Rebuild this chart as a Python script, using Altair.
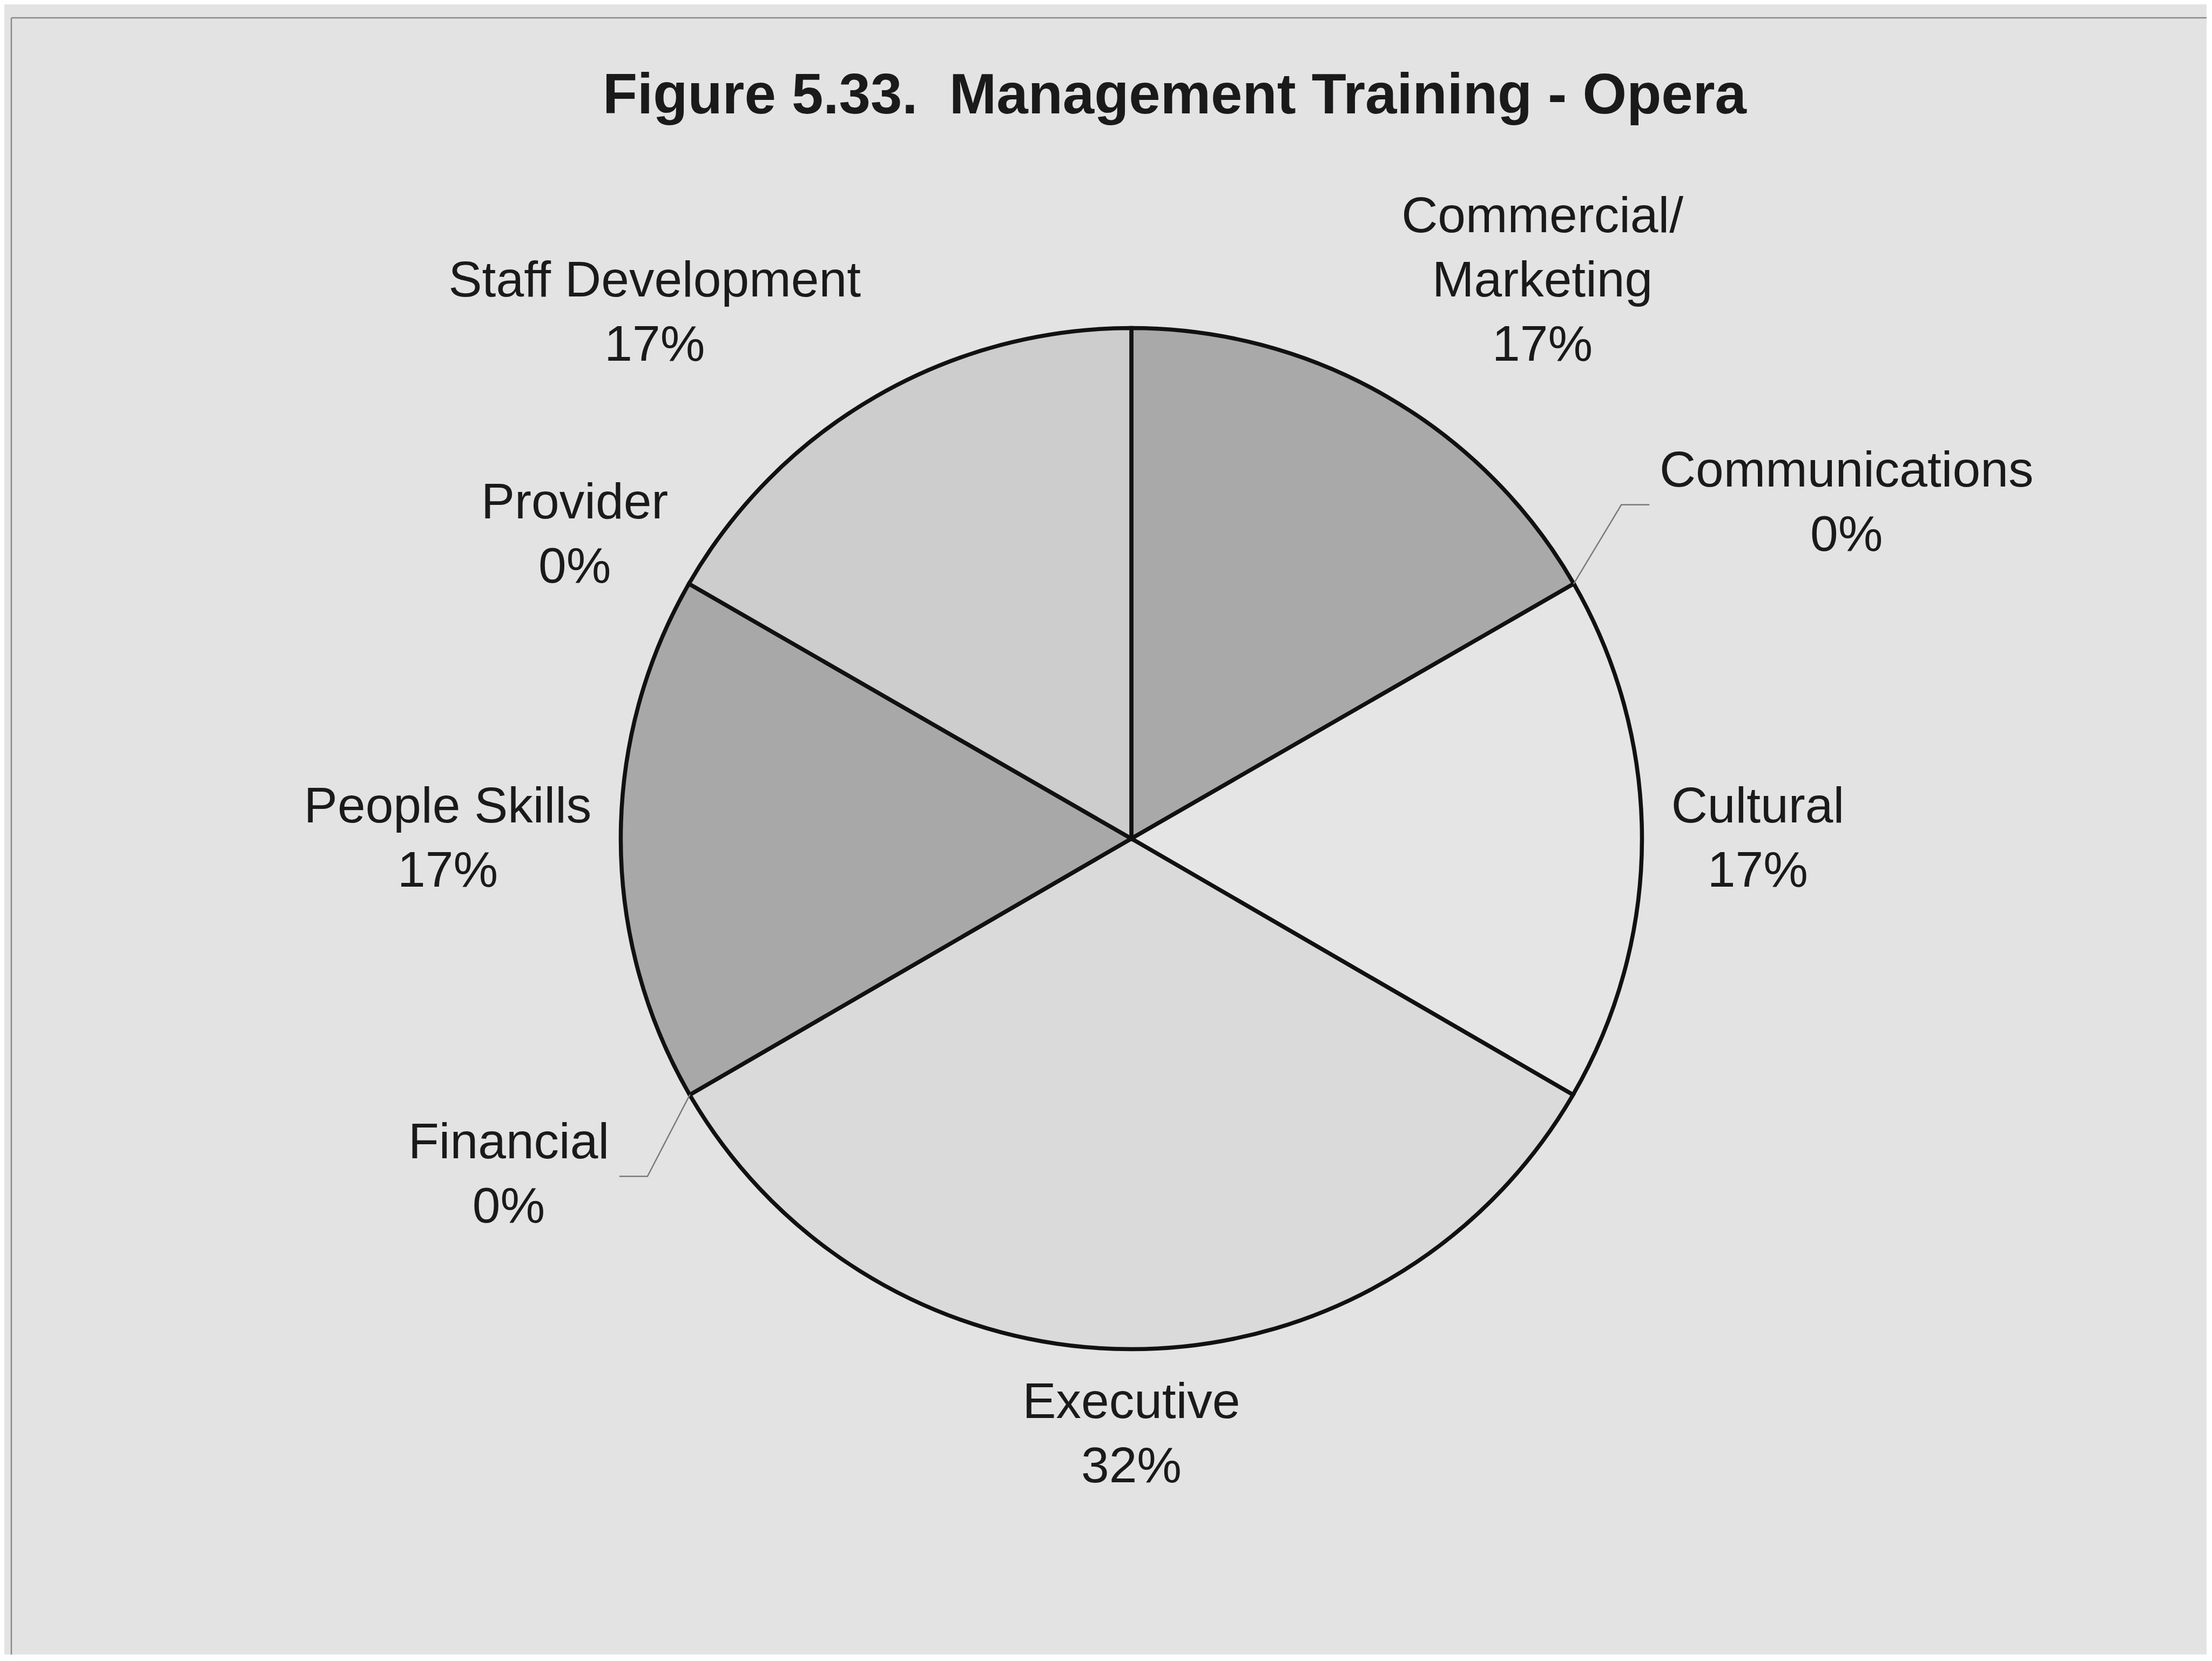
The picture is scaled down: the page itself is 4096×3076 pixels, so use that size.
import math
import altair as alt
import pandas as pd

# ---------------- data ----------------
categories = ["Commercial/Marketing", "Communications", "Cultural", "Executive",
              "Financial", "People Skills", "Provider", "Staff Development"]
# slice sizes (60, 0, 60, 120, 0, 60, 0, 60 degrees)
shares = [16.7, 0.0, 16.7, 33.3, 0.0, 16.7, 0.0, 16.7]
pct_labels = ["17%", "0%", "17%", "32%", "0%", "17%", "0%", "17%"]
label_names = ["Commercial/\nMarketing", "Communications", "Cultural", "Executive",
               "Financial", "People Skills", "Provider", "Staff Development"]
fills = ["#a9a9a9", "#e4e4e4", "#e5e5e5", "#dadada", "#dadada", "#a8a8a8", "#cdcdcd", "#cdcdcd"]
title_text = "Figure 5.33.\u00a0 Management Training - Opera"

# ---------------- layout ----------------
W, H = 4078, 3056
CX, CY = 2088, 1546          # pie centre (px in chart)
R = 945.5                    # pie radius (px)
FS, LH = 93, 119             # label font size / line height
FONT = "Liberation Sans"
TXT = "#1a1a1a"
LABEL_DIST = 1.058           # default label anchor distance (in radii)
# labels that were moved by hand in the original (angle deg, distance in radii)
moved = {"Communications": (62.3, 1.169), "Provider": (297.9, 1.027), "Financial": (241.8, 1.161)}
leaders = ["Communications", "Financial"]

# Arial / Liberation Sans advance widths (em) for text-block measurement
CW = {"C": .722, "M": .833, "S": .667, "D": .722, "P": .667, "E": .667, "F": .611,
      "a": .556, "b": .556, "c": .5, "d": .556, "e": .556, "f": .278, "g": .556, "h": .556,
      "i": .222, "k": .5, "l": .222, "m": .833, "n": .556, "o": .556, "p": .556, "r": .333,
      "s": .5, "t": .278, "u": .556, "v": .5, "x": .5, "y": .5, "/": .278, "%": .889, " ": .278}


def text_width(s):
    return sum(CW.get(ch, .556) for ch in s) * FS


xs = alt.Scale(domain=[-CX / R, (W - CX) / R], nice=False, zero=False)
ys = alt.Scale(domain=[-(H - CY) / R, CY / R], nice=False, zero=False)


def to_units(dx, dy):
    """px offset from centre (y down) -> scale units (radii, y up)."""
    return dx / R, -dy / R


# ---------------- pie ----------------
pie_df = pd.DataFrame({"category": categories, "share": shares, "idx": list(range(len(categories)))})
pie_df = pie_df[pie_df["share"] > 0]

pie = alt.Chart(pie_df).mark_arc(radius=R, stroke="#111111", strokeWidth=7.5).encode(
    theta=alt.Theta("share:Q", stack=True),
    order=alt.Order("idx:Q"),
    color=alt.Color("category:N", scale=alt.Scale(domain=categories, range=fills), legend=None),
    x=alt.XDatum(0, type="quantitative", scale=xs, axis=None),
    y=alt.YDatum(0, type="quantitative", scale=ys, axis=None),
)

# ---------------- labels ----------------
total = sum(shares)
cum = 0.0
label_rows = []
leader_rows = []
for i, cat in enumerate(categories):
    start_deg = cum / total * 360.0
    mid_deg = (cum + shares[i] / 2) / total * 360.0
    cum += shares[i]
    ang, dist = moved.get(cat, (mid_deg, LABEL_DIST))
    s, c = math.sin(math.radians(ang)), math.cos(math.radians(ang))
    ax, ay = dist * R * s, -dist * R * c
    lines = (label_names[i] + "\n" + pct_labels[i]).split("\n")
    n = len(lines)
    bw = max(text_width(l) for l in lines)
    # horizontal: block edge at anchor, lines centred inside block
    if s > 0.05:
        bx = ax + bw / 2
        side = "left"
    elif s < -0.05:
        bx = ax - bw / 2
        side = "right"
    else:
        bx = ax
        side = "center"
    # vertical: first-line baseline
    if c > 0.05:
        b0 = ay - 0.21 * FS - (n - 1) * LH
    elif c < -0.05:
        b0 = ay + 0.79 * FS
    else:
        b0 = ay - (n - 1) * LH / 2 + 0.30 * FS
    for k, line in enumerate(lines):
        u, v = to_units(bx, b0 + k * LH)
        label_rows.append({"x": u, "y": v, "text": line})
    if cat in leaders:
        sx, sy = R * math.sin(math.radians(start_deg)), -R * math.cos(math.radians(start_deg))
        block_mid = b0 + (n - 1) * LH / 2 - 0.358 * FS
        ly = block_mid + 0.008 * R
        sign = 1 if side == "left" else -1
        pts = [(sx, sy), (ax - sign * 0.075 * R, ly), (ax - sign * 0.02 * R, ly)]
        for k, (px, py) in enumerate(pts):
            u, v = to_units(px, py)
            leader_rows.append({"grp": cat, "pt": k, "x": u, "y": v})

labels = alt.Chart(pd.DataFrame(label_rows)).mark_text(
    align="center", baseline="alphabetic", fontSize=FS, font=FONT, color=TXT
).encode(
    x=alt.X("x:Q", scale=xs, axis=None),
    y=alt.Y("y:Q", scale=ys, axis=None),
    text="text:N",
)

leader = alt.Chart(pd.DataFrame(leader_rows)).mark_line(color="#7a7a7a", strokeWidth=2.5).encode(
    x=alt.X("x:Q", scale=xs, axis=None),
    y=alt.Y("y:Q", scale=ys, axis=None),
    detail="grp:N",
    order="pt:Q",
)

# ---------------- title ----------------
tx, ty = to_units(2168 - CX, 202 - CY)
title = alt.Chart(pd.DataFrame({"t": [title_text]})).mark_text(
    align="center", baseline="alphabetic", fontSize=105, fontWeight="bold", font=FONT, color=TXT
).encode(
    x=alt.XDatum(tx, type="quantitative", scale=xs, axis=None),
    y=alt.YDatum(ty, type="quantitative", scale=ys, axis=None),
    text="t:N",
)

# ---------------- frame ----------------
one = pd.DataFrame({"a": [0]})
frame_top = alt.Chart(one).mark_rule(color="#8a8a8a", strokeWidth=2.5).encode(
    x=alt.value(13), x2=alt.value(W), y=alt.value(25))
frame_left = alt.Chart(one).mark_rule(color="#8a8a8a", strokeWidth=2.5).encode(
    x=alt.value(13), y=alt.value(25), y2=alt.value(H))

chart = alt.layer(frame_top, frame_left, pie, leader, title, labels).properties(
    width=W, height=H, padding=0, background="#e3e3e3",
    autosize=alt.AutoSizeParams(type="fit", contains="padding"),
).configure_view(strokeWidth=0)

chart.save("out.html", embed_options={"renderer": "svg", "actions": False})
